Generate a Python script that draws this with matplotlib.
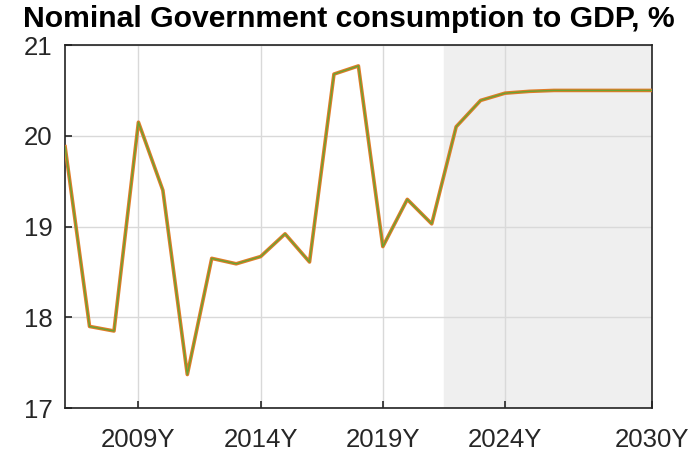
import matplotlib
matplotlib.use('Agg')
import matplotlib.pyplot as plt

plt.rcParams['font.family'] = ['Liberation Sans', 'DejaVu Sans']

years = list(range(2006, 2031))
values = [19.88, 17.90, 17.85, 20.15, 19.40, 17.37, 18.65, 18.59, 18.67, 18.92,
          18.61, 20.68, 20.77, 18.78, 19.30, 19.03, 20.10, 20.39, 20.47, 20.49,
          20.50, 20.50, 20.50, 20.50, 20.50]
xticks = [2009, 2014, 2019, 2024, 2030]
xtick_labels = ['2009Y', '2014Y', '2019Y', '2024Y', '2030Y']
forecast_start = 2021.5

fig = plt.figure(figsize=(7, 4.55), dpi=100)
ax = fig.add_axes([0.093, 0.103, 0.838, 0.798])

ax.axvspan(forecast_start, 2030, color='#efefef', zorder=0)
ax.plot(years, values, color='#e07b28', lw=2.6, zorder=3)
ax.plot(years, values, color='#6aa332', lw=1.0, zorder=4)

ax.set_xlim(2006, 2030)
ax.set_ylim(17, 21)
ax.set_yticks([17, 18, 19, 20, 21])
ax.set_xticks(xticks)
ax.set_xticklabels(xtick_labels)
ax.grid(True, color='#d9d9d9', lw=1)
ax.set_axisbelow(True)
ax.tick_params(direction='in', length=5, width=1.2, labelsize=18.5, colors='#262626', pad=9)
ax.tick_params(axis='x', pad=14)
for s in ax.spines.values():
    s.set_linewidth(1.2)
    s.set_color('#222222')

fig.text(0.033, 0.99, 'Nominal Government consumption to GDP, %', ha='left', va='top',
         fontsize=21.7, fontweight='bold')

fig.savefig('out.png', dpi=100)
